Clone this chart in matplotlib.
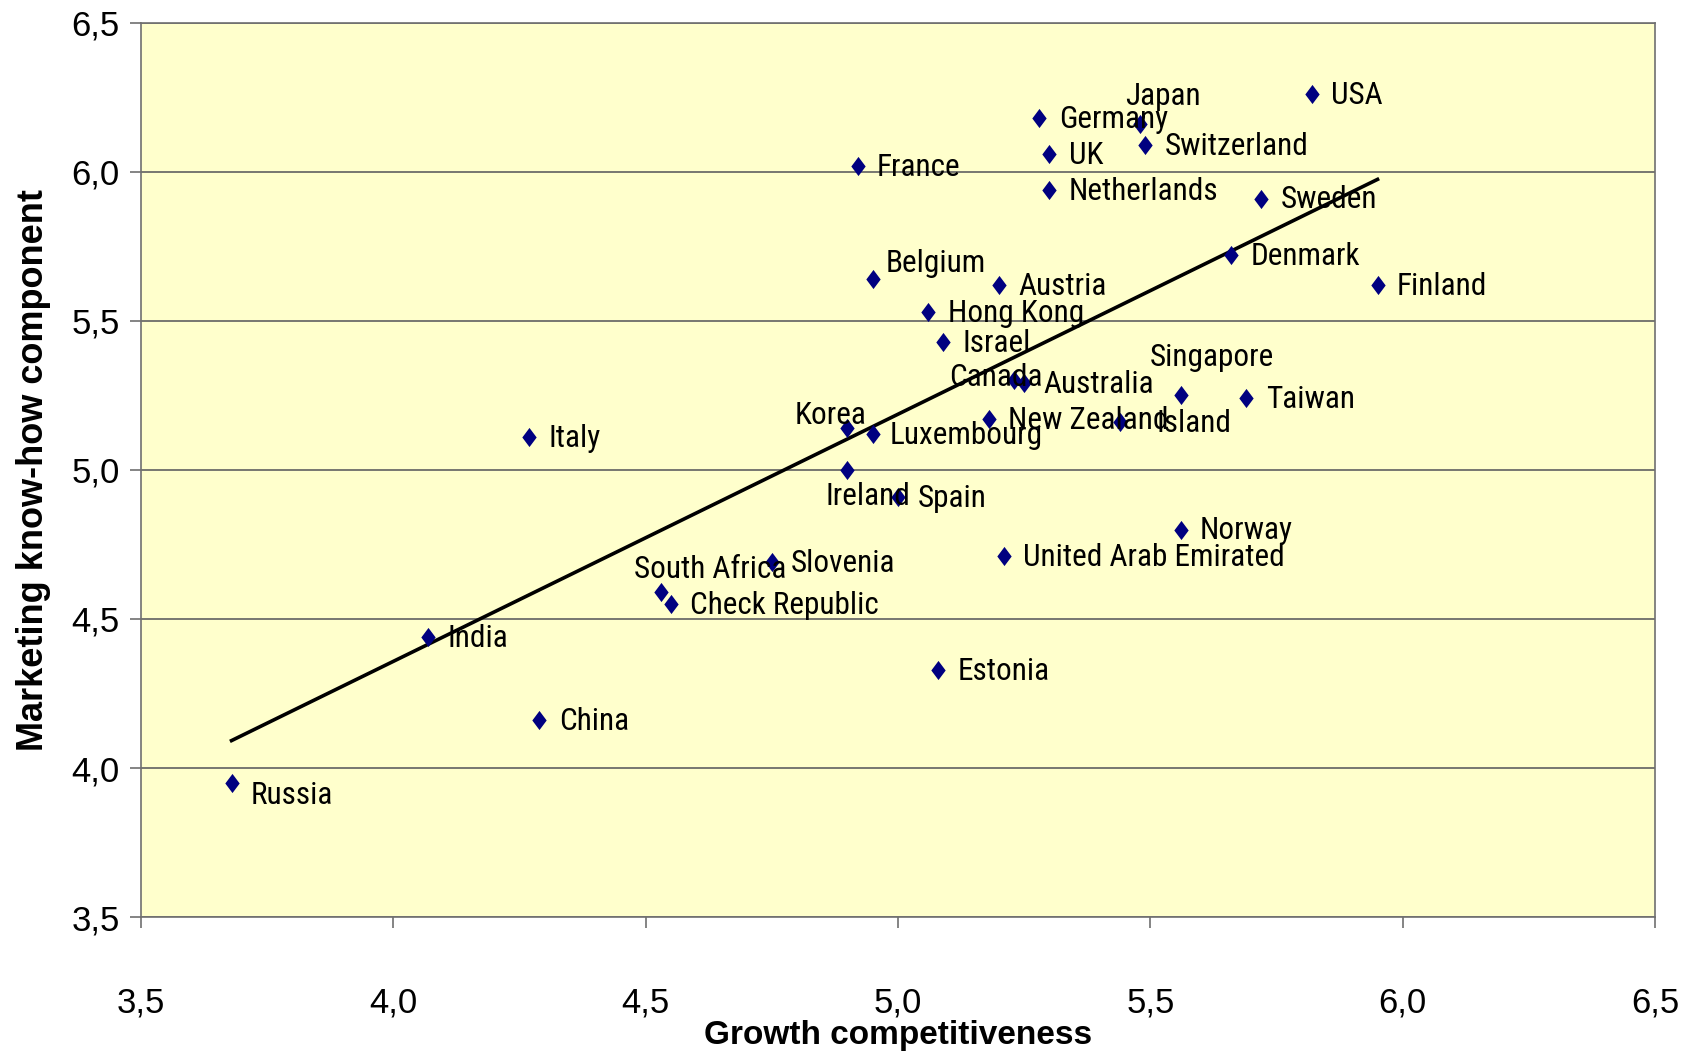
import numpy as np
import matplotlib
matplotlib.use("Agg")
import matplotlib.pyplot as plt
from matplotlib.path import Path
from matplotlib.ticker import FuncFormatter

countries = ["Russia", "India", "China", "Italy", "South Africa", "Check Republic",
             "Slovenia", "Korea", "Ireland", "Luxembourg", "Spain", "Belgium",
             "France", "Hong Kong", "Israel", "New Zealand", "Austria", "Canada",
             "Australia", "Estonia", "United Arab Emirated", "Germany", "UK",
             "Netherlands", "Japan", "Switzerland", "Island", "Singapore",
             "Norway", "Taiwan", "Denmark", "Sweden", "USA", "Finland"]
growth = [3.68, 4.07, 4.29, 4.27, 4.53, 4.55,
          4.75, 4.90, 4.90, 4.95, 5.00, 4.95,
          4.92, 5.06, 5.09, 5.18, 5.20, 5.23,
          5.25, 5.08, 5.21, 5.28, 5.30,
          5.30, 5.48, 5.49, 5.44, 5.56,
          5.56, 5.69, 5.66, 5.72, 5.82, 5.95]
marketing = [3.95, 4.44, 4.16, 5.11, 4.59, 4.55,
             4.69, 5.14, 5.00, 5.12, 4.91, 5.64,
             6.02, 5.53, 5.43, 5.17, 5.62, 5.30,
             5.29, 4.33, 4.71, 6.18, 6.06,
             5.94, 6.16, 6.09, 5.16, 5.25,
             4.80, 5.24, 5.72, 5.91, 6.26, 5.62]

# label offsets in points (default: to the right of the marker)
offsets = {
    "Russia": (14, -9), "South Africa": (-19, 16), "Korea": (-38, 9),
    "Ireland": (-16, -19), "Belgium": (9, 11), "Canada": (-47, 2),
    "Japan": (-11, 20), "Island": (26, -1), "Singapore": (-22, 27),
    "Luxembourg": (12, -1),
}

plt.rcParams["font.family"] = ["Liberation Sans", "DejaVu Sans"]
label_font = ["Roboto Condensed", "Liberation Sans", "DejaVu Sans"]

diamond = Path([(0, 1), (0.75, 0), (0, -1), (-0.75, 0), (0, 1)],
               [Path.MOVETO, Path.LINETO, Path.LINETO, Path.LINETO, Path.CLOSEPOLY])

fig = plt.figure(figsize=(16.95, 10.53), dpi=100)
ax = fig.add_axes([0.083, 0.129, 0.8935, 0.8495])
ax.set_facecolor("#FFFFCC")

x = np.array(growth)
y = np.array(marketing)

ax.scatter(x, y, marker=diamond, s=190, color="#000080", zorder=3, linewidths=0)

# linear trend through the data
k, b = np.polyfit(x, y, 1)
xs = np.sort(x)
ax.plot(xs, k * xs + b, color="black", lw=2.6, zorder=2)

for name, gx, my in zip(countries, growth, marketing):
    dx, dy = offsets.get(name, (14, -1))
    ax.annotate(name, (gx, my), xytext=(dx, dy), textcoords="offset points",
                ha="left", va="center", fontsize=22.5, family=label_font,
                color="black", zorder=4)

ax.set_xlim(3.5, 6.5)
ax.set_ylim(3.5, 6.5)
ticks = np.arange(3.5, 6.51, 0.5)
ax.set_xticks(ticks)
ax.set_yticks(ticks)
fmt = FuncFormatter(lambda v, p: f"{v:.1f}".replace(".", ","))
ax.xaxis.set_major_formatter(fmt)
ax.yaxis.set_major_formatter(fmt)
ax.tick_params(direction="out", length=8, width=1.2, color="#707070",
               labelsize=25, pad=7)
ax.tick_params(axis="x", pad=42)
ax.grid(axis="y", color="#606060", lw=1.2)
ax.set_axisbelow(True)
for s in ax.spines.values():
    s.set_color("#707070")
    s.set_linewidth(1.2)

ax.set_xlabel("Growth competitiveness", fontsize=24, fontweight="bold", labelpad=0)
ax.set_ylabel("Marketing know-how component", fontsize=26, fontweight="bold", labelpad=15)

fig.savefig("out.png", dpi=100)
